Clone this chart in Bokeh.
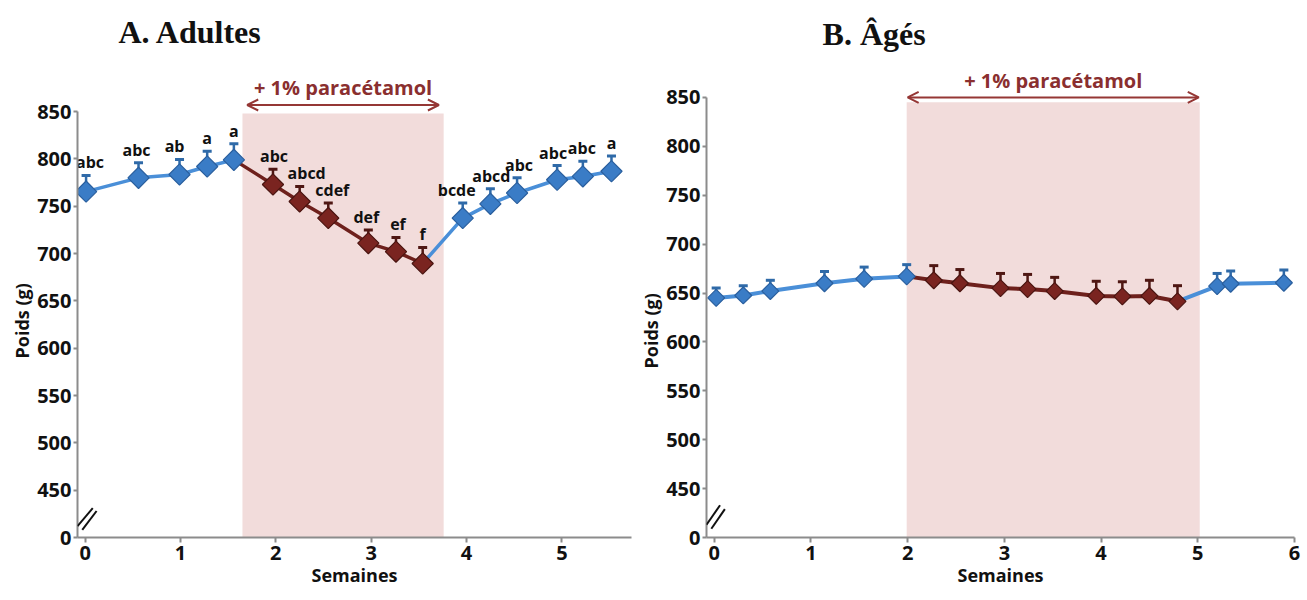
import math
from bokeh.plotting import figure
from bokeh.layouts import row
from bokeh.models import ColumnDataSource, Label, Arrow, OpenHead, FixedTicker, Title
from bokeh.core.properties import value
from bokeh.embed import file_html
from bokeh.resources import INLINE

# ---------------- data ----------------
y_ticks = [400, 450, 500, 550, 600, 650, 700, 750, 800, 850]
y_tick_labels = ["0", "450", "500", "550", "600", "650", "700", "750", "800", "850"]

# Panel A - Adultes
a_weeks_pre = [0.01, 0.56, 0.99, 1.28, 1.56]
a_weight_pre = [765.5, 780, 783.5, 792, 799]
a_err_pre = [17, 16, 16, 16, 17]
a_weeks_drug = [1.97, 2.25, 2.55, 2.97, 3.26, 3.54]
a_weight_drug = [773, 755, 737.5, 711, 702, 689.5]
a_err_drug = [16, 16, 16, 14, 15, 17]
a_weeks_post = [3.96, 4.25, 4.53, 4.95, 5.22, 5.52]
a_weight_post = [737.5, 752.5, 764, 778, 781.5, 787]
a_err_post = [16, 16, 16, 15, 16, 16]
a_letters = ["abc", "abc", "ab", "a", "a", "abc", "abcd", "cdef", "def", "ef", "f",
             "bcde", "abcd", "abc", "abc", "abc", "a"]
a_letter_dx = [4, -2, -5, 0, 0, 1, 7, 4, -2, 2, 0, -6, 1, 2, -4, -1, 0]
a_treat = (1.65, 3.76)
a_x_ticks = [0, 1, 2, 3, 4, 5]

# Panel B - Âgés
b_weeks_pre = [0.02, 0.30, 0.58, 1.14, 1.55, 1.99]
b_weight_pre = [645, 647.5, 652, 660, 664.5, 667]
b_err_pre = [10, 10, 11, 12, 12, 12]
b_weeks_drug = [2.27, 2.54, 2.96, 3.24, 3.52, 3.95, 4.22, 4.50, 4.79]
b_weight_drug = [663, 660, 655, 654, 652, 647, 646.5, 647, 641.5]
b_err_drug = [15, 14, 15, 15, 14, 15, 15, 16, 16]
b_weeks_post = [5.20, 5.34, 5.89]
b_weight_post = [657, 659.5, 660.5]
b_err_post = [13, 13, 13]
b_treat = (1.99, 5.02)
b_x_ticks = [0, 1, 2, 3, 4, 5, 6]

# ---------------- styles ----------------
BLUE_LINE = "#4a8fd8"
BLUE_MARK = "#3a7cc6"
BLUE_EDGE = "#2a5f9e"
BLUE_ERR = "#2f6aa8"
BROWN_LINE = "#6e201c"
BROWN_MARK = "#7a2420"
BROWN_EDGE = "#4a1410"
BROWN_ERR = "#4f1713"
SHADE = "#F2DCDB"
DARKRED = "#953735"
AXIS = "#8c8c8c"
FONT = "Open Sans"


def style_axes(p, x_ticks, ylabel_offset):
    p.grid.visible = False
    p.outline_line_color = None
    p.yaxis.ticker = FixedTicker(ticks=y_ticks)
    p.yaxis.major_label_overrides = {t: l for t, l in zip(y_ticks, y_tick_labels)}
    p.yaxis.bounds = (y_ticks[0], y_ticks[-1])
    p.xaxis.ticker = FixedTicker(ticks=x_ticks)
    for ax in (p.xaxis[0], p.yaxis[0]):
        ax.axis_line_color = AXIS
        ax.axis_line_width = 2
        ax.major_tick_line_color = AXIS
        ax.major_tick_line_width = 2
        ax.major_tick_out = 5
        ax.major_tick_in = 0
        ax.minor_tick_out = 0
        ax.minor_tick_in = 0
        ax.major_label_text_font = FONT
        ax.major_label_text_font_style = "bold"
        ax.major_label_text_font_size = "20px"
        ax.major_label_text_color = "#111111"
        ax.major_label_standoff = 3
    p.yaxis.major_tick_out = 4
    p.yaxis.major_label_standoff = 2
    p.xaxis.axis_label = "Semaines"
    p.xaxis.axis_label_text_font = FONT
    p.xaxis.axis_label_text_font_style = "bold"
    p.xaxis.axis_label_text_font_size = "18px"
    p.xaxis.axis_label_text_color = "#111111"
    p.xaxis.axis_label_standoff = 0
    p.add_layout(Title(text="Poids (g)", align="left", offset=ylabel_offset, standoff=2,
                       text_font=FONT, text_font_style="bold", text_font_size="18px",
                       text_color="#111111"), "left")


def draw_series(p, pre, drug, post, msize, lw):
    (xp, yp, ep), (xd, yd, ed), (xq, yq, eq) = pre, drug, post
    p.line(xp, yp, line_color=BLUE_LINE, line_width=lw)
    p.line([xp[-1]] + xd, [yp[-1]] + yd, line_color=BROWN_LINE, line_width=lw)
    p.line([xd[-1]] + xq, [yd[-1]] + yq, line_color=BLUE_LINE, line_width=lw)
    for xs, ys, es, col in ((xp, yp, ep, BLUE_ERR), (xd, yd, ed, BROWN_ERR), (xq, yq, eq, BLUE_ERR)):
        tops = [y + e for y, e in zip(ys, es)]
        p.segment(xs, ys, xs, tops, line_color=col, line_width=2.5)
        p.scatter(xs, tops, marker="dash", size=9, line_color=col, line_width=3)
    for xs, ys, fc, ec in ((xp, yp, BLUE_MARK, BLUE_EDGE), (xd, yd, BROWN_MARK, BROWN_EDGE),
                           (xq, yq, BLUE_MARK, BLUE_EDGE)):
        p.scatter(xs, ys, marker="square", angle=math.pi / 4, size=msize,
                  fill_color=fc, line_color=ec, line_width=1.2)


def add_text(p, x, y, text, size, color="#111111", font=FONT, style="bold", align="center"):
    p.add_layout(Label(x=x, y=y, text=text, text_font=font, text_font_style=style,
                       text_font_size=size, text_color=color, text_align=align,
                       text_baseline="middle"))


def add_break(p, lines):
    for (x0, y0, x1, y1) in lines:
        p.add_layout(Arrow(start=None, end=None, x_start=x0, y_start=y0, x_end=x1, y_end=y1,
                           line_color="#111111", line_width=2))


def treatment(p, span, shade_top, arrow_y, text_y, inset):
    p.quad(left=[span[0]], right=[span[1]], bottom=[y_ticks[0]], top=[shade_top],
           fill_color=SHADE, line_color=None)
    p.add_layout(Arrow(start=OpenHead(size=11, line_color=DARKRED, line_width=2),
                       end=OpenHead(size=11, line_color=DARKRED, line_width=2),
                       x_start=span[0] + inset, y_start=arrow_y,
                       x_end=span[1] - inset, y_end=arrow_y,
                       line_color=DARKRED, line_width=2))
    add_text(p, (span[0] + span[1]) / 2, text_y, "+ 1% paracétamol", "20px", color="#8a2f2f")


# ---------------- Panel A ----------------
pa = figure(width=634, height=598, x_range=(-0.08, 5.73), y_range=(400, 967.4),
            output_backend="svg", toolbar_location=None,
            min_border_left=77, min_border_right=3, min_border_top=0, min_border_bottom=59)
style_axes(pa, a_x_ticks, 179)
treatment(pa, a_treat, 848, 857, 876, 0.05)
draw_series(pa, (a_weeks_pre, a_weight_pre, a_err_pre),
            (a_weeks_drug, a_weight_drug, a_err_drug),
            (a_weeks_post, a_weight_post, a_err_post), 15, 3.5)
ax_all = a_weeks_pre + a_weeks_drug + a_weeks_post
ay_all = [y + e for y, e in zip(a_weight_pre + a_weight_drug + a_weight_post,
                                a_err_pre + a_err_drug + a_err_post)]
src = ColumnDataSource(dict(x=ax_all, y=ay_all, t=a_letters, dx=a_letter_dx))
pa.text(x="x", y="y", text="t", x_offset="dx", y_offset=-13, source=src,
        text_align="center", text_baseline="middle", text_font=value(FONT),
        text_font_style="bold", text_font_size="16px", text_color="#111111")
add_text(pa, 0.35, 934, "A.  Adultes", "32px", font="Liberation Serif", align="left")
add_break(pa, [(-0.08, 412, 0.08, 431), (-0.03, 408, 0.12, 428)])

# ---------------- Panel B ----------------
pb = figure(width=668, height=598, x_range=(-0.08, 6), y_range=(400, 949.1),
            output_backend="svg", toolbar_location=None,
            min_border_left=72, min_border_right=8, min_border_top=0, min_border_bottom=61)
style_axes(pb, b_x_ticks, 169)
treatment(pb, b_treat, 845, 850, 867, 0.01)
draw_series(pb, (b_weeks_pre, b_weight_pre, b_err_pre),
            (b_weeks_drug, b_weight_drug, b_err_drug),
            (b_weeks_post, b_weight_post, b_err_post), 12, 4)
add_text(pb, 1.12, 915, "B. Âgés", "32px", font="Liberation Serif", align="left")
add_break(pb, [(-0.08, 413, 0.06, 433), (-0.03, 409, 0.11, 429)])

layout = row(pa, pb)
open("out.html", "w").write(file_html(layout, INLINE))
